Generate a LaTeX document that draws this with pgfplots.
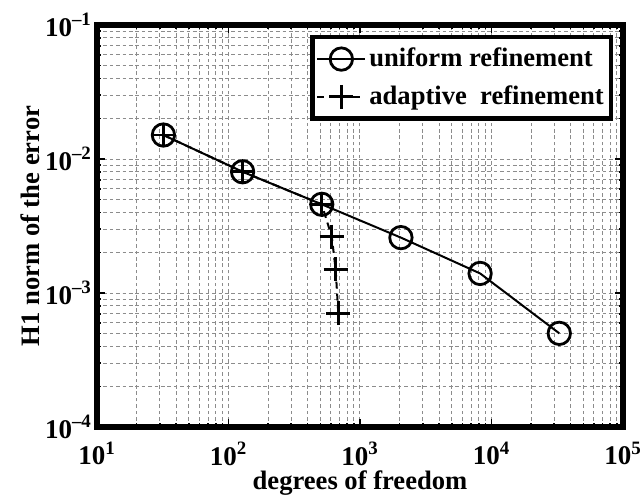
\documentclass[border=0pt]{standalone}
\usepackage{fontspec}
\setmainfont{Liberation Serif}
\usepackage{pgfplots}
\pgfplotsset{compat=1.18}
\begin{document}
\begin{tikzpicture}
\begin{axis}[
  scale only axis, width=263pt, height=201pt,
  xmode=log, ymode=log,
  xmin=10, xmax=1e5, ymin=1e-4, ymax=1e-1,
  xtick={10,100,1000,10000,100000},
  xticklabels={10\textsuperscript{1},10\textsuperscript{2},10\textsuperscript{3},10\textsuperscript{4},10\textsuperscript{5}},
  ytick={1e-4,1e-3,1e-2,1e-1},
  yticklabels={10\textsuperscript{–4},10\textsuperscript{–3},10\textsuperscript{–2},10\textsuperscript{–1}},
  ticklabel style={font=\fontsize{13.5}{13.5}\selectfont\bfseries},
  xticklabel style={yshift=-4pt},
  yticklabel style={xshift=1pt},
  grid=both,
  major grid style={gray!90, dash pattern=on 1.8pt off 1.4pt, line width=0.5pt},
  minor grid style={gray!90, dash pattern=on 1.8pt off 1.4pt, line width=0.5pt},
  axis line style={line width=2.7pt},
  tick style={black, line width=0.8pt},
  major tick length=4pt, minor tick length=2pt,
  xlabel={degrees of freedom}, ylabel={H1 norm of the error},
  label style={font=\fontsize{13.3}{13.3}\selectfont\bfseries},
  xlabel style={yshift=4pt},
  ylabel style={yshift=-4pt},
  legend style={at={(1,1)}, xshift=-5pt, yshift=-5pt, anchor=north east, draw=black, line width=2.2pt,
    font=\fontsize{13.3}{13.3}\selectfont\bfseries, cells={anchor=west},
    inner xsep=2pt, inner ysep=3.5pt, row sep=4pt,
    nodes={inner xsep=1.5pt, inner ysep=2pt, text depth=0.15em}},
  legend image code/.code={\draw[mark repeat=2, mark phase=2, line width=1pt, #1] plot coordinates {(0pt,0pt) (12pt,0pt) (24pt,0pt)};},
]
\addplot[black, line width=1pt, mark=o, mark size=5.6pt, mark options={solid, line width=1.4pt}]
  coordinates {(32,0.0151) (128,0.00803) (512,0.00459) (2048,0.00259) (8192,0.00140) (32768,0.000500)};
\addlegendentry{uniform refinement}
\addplot[black, line width=1pt, dash pattern=on 3.5pt off 2.5pt, mark=+, mark size=6pt, mark options={solid, line width=1.4pt}]
  coordinates {(32,0.0151) (128,0.00803) (512,0.00459) (610,0.00263) (653,0.00150) (684,0.000706)};
\addlegendentry{adaptive\ \ refinement}
\end{axis}
\pgfresetboundingbox
\path ([xshift=-48.5pt,yshift=-35pt]current axis.south west) rectangle ([xshift=8.5pt,yshift=12.5pt]current axis.north east);
\end{tikzpicture}
\end{document}
